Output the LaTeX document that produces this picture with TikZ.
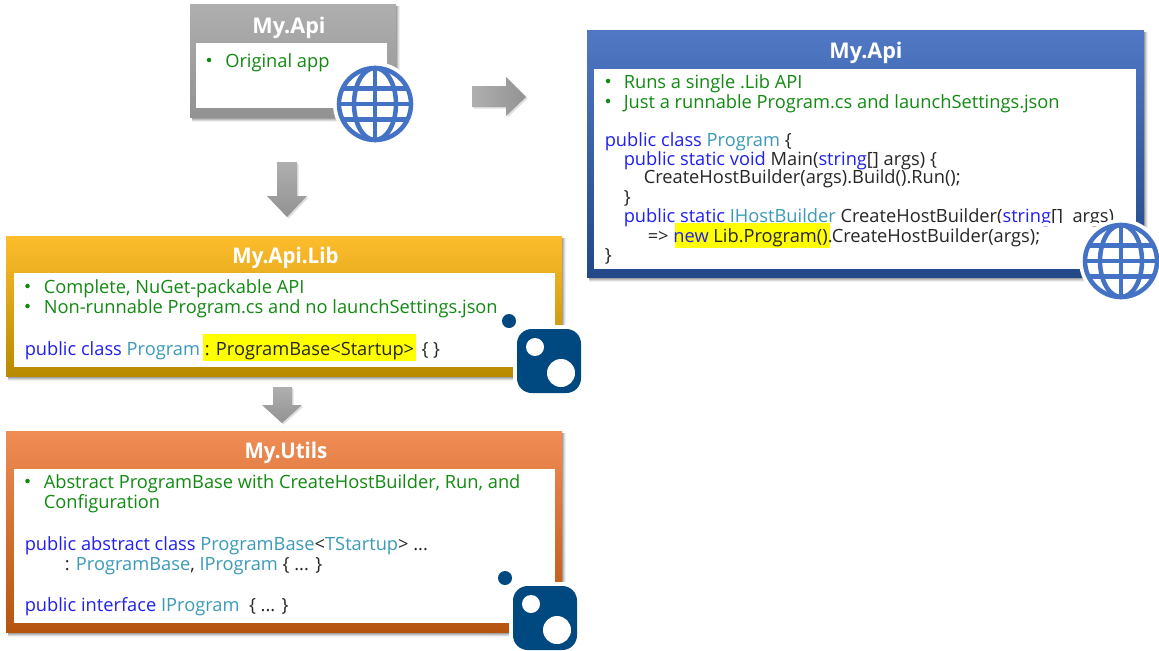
\documentclass[tikz,border=0pt]{standalone}
\usepackage{fontspec}
\setmainfont{Open Sans}
\usetikzlibrary{calc}
\definecolor{cgreen}{HTML}{128A12}
\definecolor{cblue}{HTML}{2020F0}
\definecolor{cteal}{HTML}{3C9AB8}
\definecolor{navy}{HTML}{004880}
\definecolor{globeblue}{HTML}{4472C4}
\definecolor{gytop}{HTML}{AFAFAF}\definecolor{gymid}{HTML}{A0A0A0}\definecolor{gybot}{HTML}{929292}
\definecolor{gdtop}{HTML}{FDBD2D}\definecolor{gdmid}{HTML}{DAA416}\definecolor{gdbot}{HTML}{B88A00}
\definecolor{ortop}{HTML}{F08C55}\definecolor{ormid}{HTML}{D4671A}\definecolor{orbot}{HTML}{B5540F}
\definecolor{bltop}{HTML}{5078C4}\definecolor{blmid}{HTML}{3960A6}\definecolor{blbot}{HTML}{224888}
\definecolor{hl}{HTML}{FFFF00}
\newcommand{\gr}[1]{\textcolor{cgreen}{#1}}
\newcommand{\bl}[1]{\textcolor{cblue}{#1}}
\newcommand{\te}[1]{\textcolor{cteal}{#1}}
\tikzset{
  x=0.75pt,y=-0.75pt,
  txt/.style={anchor=base west,inner sep=0pt,font=\fontsize{13.7}{16}\selectfont,text=black!85},
  bul/.style={anchor=center,circle,fill=cgreen,inner sep=0pt,minimum size=3.4pt},
  ttl/.style={anchor=base,inner sep=0pt,font=\fontsize{16.2}{18}\selectfont\bfseries,text=white},
  glb/.style={draw=globeblue,line width=3.4pt},
  arrowshadow/.style={fill=black,opacity=0.13},
}
\newcommand{\panel}[7]{%
  \foreach \d/\o in {5/0.06,4/0.09,3/0.12,2/0.16}{%
    \fill[black,opacity=\o] (#1+2,#2+2) rectangle (#3+\d-1,#4+\d);}%
  \shade[top color=#5,middle color=#6,bottom color=#7] (#1,#2) rectangle (#3,#4);}
\newcommand{\globe}[2]{%
  \begin{scope}[shift={(#1,#2)}]
    \fill[white] (0,0) circle[radius=42];
    \draw[glb] (0,0) circle[radius=36];
    \draw[glb] (0,0) ellipse[x radius=21,y radius=36];
    \draw[glb] (0,-36) -- (0,36);
    \draw[glb] (-36,0) -- (36,0);
    \draw[glb] (-31.5,-15.5) -- (31.5,-15.5);
    \draw[glb] (-31.5,15.5) -- (31.5,15.5);
  \end{scope}}
\newcommand{\nuget}[2]{%
  \begin{scope}[shift={(#1,#2)}]
    \fill[white] (-4,-4) rectangle (64,68);
    \fill[navy] (-8,-8) circle[radius=7];
    \fill[navy,rounded corners=11pt] (0,0) rectangle (64,64);
    \fill[white] (18,18) circle[radius=9];
    \fill[white] (44,44) circle[radius=14];
  \end{scope}}
\begin{document}
\begin{tikzpicture}
\useasboundingbox (0,0) rectangle (1159,650);
\fill[white] (0,0) rectangle (1159,650);

\panel{190}{4}{396}{117}{gytop}{gymid}{gybot}
\fill[white] (196,43) rectangle (387,108);
\panel{6}{236}{562}{376}{gdtop}{gdmid}{gdbot}
\fill[white] (14,273) rectangle (555,367);
\panel{6}{431}{562}{632}{ortop}{ormid}{orbot}
\fill[white] (14,469) rectangle (555,623);
\panel{587}{30}{1144}{277}{bltop}{blmid}{blbot}
\fill[white] (594,69) rectangle (1136,269);

\fill[arrowshadow,shift={(1.5,1.5)}] (472,86) -- (506,86) -- (506,77) -- (526,97) -- (506,116) -- (506,107) -- (472,107) -- cycle;
\shade[left color=gytop,right color=gybot] (472,86) -- (506,86) -- (506,77) -- (526,97) -- (506,116) -- (506,107) -- (472,107) -- cycle;
\fill[arrowshadow,shift={(1.5,1.5)}] (277,162) -- (297,162) -- (297,196) -- (307,196) -- (287,217) -- (267,196) -- (277,196) -- cycle;
\shade[top color=gytop,bottom color=gybot] (277,162) -- (297,162) -- (297,196) -- (307,196) -- (287,217) -- (267,196) -- (277,196) -- cycle;
\fill[arrowshadow,shift={(1.5,1.5)}] (273,387) -- (292,387) -- (292,405) -- (302,405) -- (282,423) -- (262,405) -- (273,405) -- cycle;
\shade[top color=gytop,bottom color=gybot] (273,387) -- (292,387) -- (292,405) -- (302,405) -- (282,423) -- (262,405) -- (273,405) -- cycle;

\node[ttl] (t1) at (289,33) {My.Api};
\node[ttl] (t2) at (285.5,263) {\scalebox{0.95}[1]{My.Api.Lib}};
\node[ttl] (t3) at (286,458) {\scalebox{0.95}[1]{My.Utils}};
\node[ttl] (t4) at (866,58) {My.Api};

\node[bul] (g0) at (209,60) {};
\node[txt] (g1) at (225,67) {\gr{Original app}};

\fill[hl] (203,334) rectangle (416,361);
\node[bul] (a0) at (27.5,286) {};
\node[txt] (a1) at (43.5,293) {\gr{Complete, NuGet-packable API}};
\node[bul] (a2) at (27.5,306) {};
\node[txt] (a3) at (43.5,313) {\gr{Non-runnable Program.cs and no launchSettings.json}};
\node[txt] (a4) at (24.5,355) {\bl{public class} \te{Program} : ProgramBase<Startup>\kern2pt\ \{ \}};

\node[bul] (b0) at (27.5,481) {};
\node[txt] (b1) at (43.5,488) {\gr{Abstract ProgramBase with CreateHostBuilder, Run, and}};
\node[txt] (b2) at (43.5,508) {\gr{Configuration}};
\node[txt] (b3) at (24.5,550) {\bl{public abstract class} \te{ProgramBase}<\te{TStartup}> ...};
\node[txt] (b4) at (64.5,570) {: \te{ProgramBase}, \te{IProgram} \{ ... \}};
\node[txt] (b5) at (24.5,611) {\bl{public interface} \te{IProgram} \ \{ ... \}};

\node[bul] (c0) at (608,81) {};
\node[txt] (c1) at (623.5,88) {\gr{Runs a single .Lib API}};
\node[bul] (c2) at (608,101) {};
\node[txt] (c3) at (623.5,108) {\gr{Just a runnable Program.cs and launchSettings.json}};
\node[txt] (c4) at (604.5,146) {\bl{public class} \te{Program} \{};
\node[txt] (c5) at (623.5,165) {\bl{public static void} Main(\bl{string}[] args) \{};
\node[txt] (c6) at (643.5,183) {CreateHostBuilder(args).Build().Run();};
\node[txt] (c7) at (623.5,203) {\}};
\node[txt] (c8) at (623.5,222) {\bl{public static} \te{IHostBuilder} CreateHostBuilder(\bl{string}[] \ args)};
\fill[white] (831,223) rectangle (1136,226);
\fill[hl] (674.5,223) rectangle (830,248);
\node[txt] (c9) at (647.5,242) {=> \bl{new} Lib.Program().CreateHostBuilder(args);};
\node[txt] (c10) at (604.5,261) {\}};

\globe{375}{104}
\globe{1121}{261}
\nuget{517}{329}
\nuget{513}{586}
\end{tikzpicture}
\end{document}
